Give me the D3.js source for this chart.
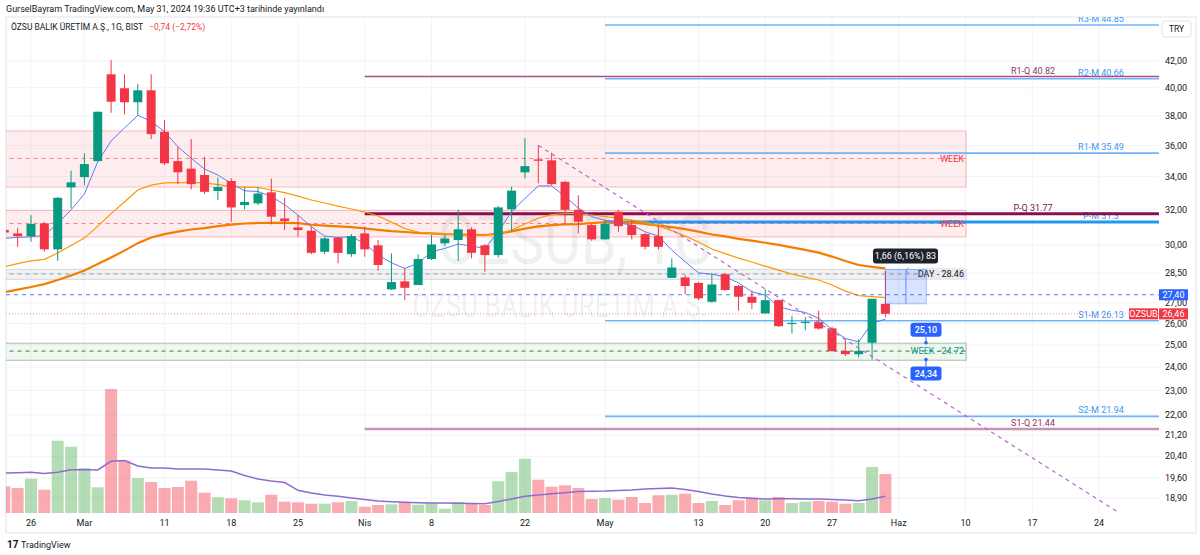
<!DOCTYPE html>
<html><head><meta charset="utf-8">
<script src="https://cdn.jsdelivr.net/npm/d3@7"></script>
<style>body{margin:0;background:#fff;}svg{display:block;font-family:Roboto,"Liberation Sans",sans-serif;}</style>
</head><body><svg id="c" width="1200" height="555"></svg>
<script>
// ---------- DATA ----------
const dates = ["2024-02-22","2024-02-23","2024-02-26","2024-02-27","2024-02-28","2024-02-29","2024-03-01",
"2024-03-04","2024-03-05","2024-03-06","2024-03-07","2024-03-08","2024-03-11","2024-03-12","2024-03-13","2024-03-14","2024-03-15",
"2024-03-18","2024-03-19","2024-03-20","2024-03-21","2024-03-22","2024-03-25","2024-03-26","2024-03-27","2024-03-28","2024-03-29",
"2024-04-01","2024-04-02","2024-04-03","2024-04-04","2024-04-05","2024-04-08","2024-04-09","2024-04-15","2024-04-16","2024-04-17","2024-04-18","2024-04-19",
"2024-04-22","2024-04-24","2024-04-25","2024-04-26","2024-04-29","2024-04-30","2024-05-02","2024-05-03",
"2024-05-06","2024-05-07","2024-05-08","2024-05-09","2024-05-10","2024-05-13","2024-05-14","2024-05-15","2024-05-16","2024-05-17",
"2024-05-20","2024-05-21","2024-05-22","2024-05-23","2024-05-24","2024-05-27","2024-05-28","2024-05-29","2024-05-30","2024-05-31"];
const open  = [30.85,30.65,30.5,31.22,29.77,33.34,33.97,34.98,40.99,39.96,38.95,39.81,36.9,34.98,34.5,34.1,33.12,33.73,32.28,32.38,33.04,31.5,30.99,30.8,29.64,30.41,29.51,30.65,29.99,27.67,28.08,27.89,29.25,30.1,30.28,30.88,29.99,29.46,32.03,34.27,35.09,35.03,33.68,32.0,31.12,30.32,31.89,31.12,30.61,30.5,28.26,28.28,28.0,27.05,28.45,27.84,27.3,26.48,27.13,25.97,26.03,26.06,25.77,24.73,24.58,25.10,26.95];
const high  = [31.0,30.95,31.69,31.3,32.75,34.37,35.48,38.3,42.08,40.99,40.27,40.99,37.7,35.91,36.42,35.26,33.95,33.9,33.34,33.34,33.88,32.71,31.69,31.03,30.46,30.46,30.61,31.03,30.28,29.55,28.75,29.5,30.56,30.56,32.0,30.99,30.06,32.22,33.38,36.47,36.0,35.52,33.73,32.87,31.18,31.4,32.0,31.4,30.68,31.12,29.28,28.4,28.05,28.49,28.5,27.9,27.6,27.67,27.16,26.35,26.3,26.61,25.83,25.25,25.25,27.2,28.61];
const low   = [30.55,29.9,30.19,29.64,29.15,32.08,33.48,34.95,38.21,38.1,38.05,36.42,34.73,33.54,33.22,32.94,32.58,31.31,32.03,32.28,31.16,30.84,30.46,29.51,29.51,29.02,29.37,29.37,28.63,27.64,27.13,27.89,29.2,29.95,29.15,29.28,28.57,29.33,30.8,33.9,33.59,33.48,31.18,30.65,30.24,30.3,30.74,30.32,29.77,29.77,28.26,27.43,27.13,27.0,27.6,26.61,26.7,26.48,25.83,25.53,25.68,25.7,24.7,24.5,24.43,24.34,26.3];
const close = [30.7,30.5,31.18,29.77,32.71,33.65,34.79,38.28,38.99,38.95,39.81,36.75,34.84,34.27,33.54,33.07,33.36,32.14,32.46,32.97,31.6,31.35,30.84,29.58,30.37,29.58,30.5,29.77,28.93,28.04,27.75,29.25,30.04,30.37,30.88,29.58,29.46,32.14,33.14,34.66,35.0,33.54,32.0,31.31,30.32,31.18,31.06,30.56,29.91,29.91,28.8,27.84,27.22,27.92,27.64,27.3,27.0,27.13,25.87,26.03,26.08,25.76,24.72,24.58,24.72,27.2,26.46];
const volume = [2.67,2.5,3.43,2.33,7.23,6.63,4.5,2.57,12.4,5.23,3.5,3.1,2.5,2.6,3.23,2.03,1.57,1.47,1.27,1.07,1.83,1.13,1.07,0.93,0.93,1.07,1.2,0.63,0.8,0.87,1.1,0.83,1.0,0.43,1.1,0.93,0.8,3.17,4.1,5.43,3.33,2.63,2.77,2.5,1.4,1.5,1.33,1.6,1.0,1.77,1.83,1.93,1.0,1.2,0.8,1.27,1.53,1.27,1.6,1.0,1.13,1.2,1.13,0.93,1.0,4.6,3.9];
const volumeMA = [4.0,4.03,4.07,3.95,4.07,4.33,4.32,4.3,5.17,5.25,4.7,4.5,4.5,4.4,4.4,4.4,4.3,4.2,3.75,3.4,3.2,3.05,2.27,2.0,1.8,1.67,1.5,1.35,1.2,1.13,1.07,1.03,1.0,1.0,0.97,0.95,0.93,1.15,1.4,1.67,1.8,1.93,2.03,2.15,2.18,2.2,2.25,2.3,2.4,2.45,2.5,2.35,2.15,1.9,1.7,1.55,1.47,1.4,1.43,1.42,1.4,1.4,1.35,1.3,1.23,1.4,1.67];
const maFast = [30.37,30.43,30.46,30.54,31.22,32.0,32.94,34.94,36.29,37.16,38.03,37.62,36.9,35.91,35.16,34.47,34.1,33.59,33.13,33.09,32.79,32.3,31.69,31.03,30.5,30.43,30.46,30.1,29.46,29.05,28.75,29.02,29.64,29.82,30.06,29.95,29.82,30.74,31.89,32.67,33.43,33.43,32.79,32.1,31.6,31.4,31.25,31.12,30.74,30.5,29.73,29.1,28.52,28.45,28.31,28.0,27.55,27.38,26.8,26.64,26.53,26.24,25.72,25.3,25.14,26.02,26.2];
const maMid = [28.84,29.0,29.15,29.23,29.57,29.98,30.39,31.06,31.78,32.46,33.18,33.48,33.61,33.63,33.65,33.61,33.51,33.39,33.36,33.34,33.18,33.02,32.81,32.58,32.4,32.22,32.05,31.87,31.64,31.29,30.92,30.73,30.64,30.61,30.59,30.56,30.56,30.61,30.84,31.18,31.52,31.72,31.78,31.78,31.7,31.61,31.52,31.4,31.29,31.06,30.81,30.5,30.17,29.79,29.54,29.3,29.09,28.87,28.66,28.45,28.3,28.15,27.89,27.58,27.36,27.31,27.26];
const maSlow = [27.53,27.66,27.79,27.94,28.15,28.38,28.64,28.98,29.33,29.7,30.11,30.42,30.61,30.75,30.87,30.95,31.06,31.15,31.21,31.24,31.25,31.25,31.23,31.14,31.09,31.05,31.0,30.93,30.85,30.78,30.73,30.68,30.65,30.61,30.59,30.57,30.56,30.64,30.76,30.92,31.05,31.12,31.16,31.18,31.24,31.29,31.31,31.26,31.18,31.09,31.0,30.89,30.75,30.59,30.48,30.35,30.25,30.13,30.01,29.88,29.74,29.59,29.38,29.14,28.93,28.83,28.75];

const timeTickIndex = [2,6,12,17,22,27,32,39,45,52,57,62,67,72,77,82];
const timeTickLabels = ["26","Mar","11","18","25","Nis","8","22","May","13","20","27","Haz","10","17","24"];
const priceTicks = [42,40,38,36,34,32,30,28.5,27,26,25,24,23,22,21.2,20.4,19.6,18.9];

const pivotLabels = ["R3-M 44.85","R2-M 40.66","R1-M 35.49","P-M 31.3","S1-M 26.13","S2-M 21.94","R1-Q 40.82","P-Q 31.77","S1-Q 21.44"];
const pivotValues = [44.85,40.66,35.49,31.3,26.13,21.94,40.82,31.77,21.44];
const pivotKind   = ["M","M","M","MP","M","M","QR","QP","QS"];

const zoneTop    = [36.96,31.96,28.7,25.08];
const zoneBottom = [33.36,30.45,28.18,24.31];
const zoneMid    = [35.15,31.21,28.46,24.72];
const zoneLabels = ["WEEK","WEEK","DAY - 28.46","WEEK - 24.72"];
const zoneKind   = ["res","res","day","sup"];

const trendStart = [40, 36.0];
const trendEnd   = [83.42, 18.42];
const lastPrice = 26.46, linePrice = 27.40;
const noteValues = [25.10, 24.34];
const measureFrom = 26.95, measureTo = 28.7;

// ---------- SCALES ----------
const svg = d3.select("#c");
const P = {l:6, r:1159, t:17, b:513};
const x = d3.scaleLinear().domain([2,82]).range([31,1099]);
const y = d3.scaleLog().domain([18.9,42]).range([498,61]);
const yv = d3.scaleLinear().domain([0,12.4]).range([513,389]);
const fmt = v => d3.format(".2f")(v).replace(".", ",");
const idx = d3.range(dates.length);

const defs = svg.append("defs");
defs.append("clipPath").attr("id","clip").append("rect")
  .attr("x",P.l).attr("y",P.t).attr("width",P.r-P.l).attr("height",P.b-P.t);
defs.append("marker").attr("id","arr").attr("viewBox","0 0 10 10").attr("refX",5).attr("refY",2)
  .attr("markerWidth",7).attr("markerHeight",7).attr("orient","auto-start-reverse")
  .append("path").attr("d","M1,6 L5,2 L9,6").attr("fill","none").attr("stroke","#5b8cff").attr("stroke-width",1.2);

// header
svg.append("text").attr("x",6).attr("y",12).attr("font-size",9).attr("fill","#131722")
  .text("GurselBayram TradingView.com, May 31, 2024 19:36 UTC+3 tarihinde yayınlandı");
// frame
svg.append("rect").attr("x",P.l).attr("y",P.t).attr("width",1196-P.l).attr("height",533-P.t)
  .attr("fill","none").attr("stroke","#e0e3eb");

const g = svg.append("g").attr("clip-path","url(#clip)");
// grid
g.selectAll(".vg").data(timeTickIndex).join("line").attr("x1",d=>x(d)).attr("x2",d=>x(d))
  .attr("y1",P.t).attr("y2",P.b).attr("stroke","#f2f3f7");
g.selectAll(".hg").data(priceTicks).join("line").attr("x1",P.l).attr("x2",P.r)
  .attr("y1",d=>y(d)).attr("y2",d=>y(d)).attr("stroke","#f2f3f7");

// watermark
g.append("text").attr("x",575).attr("y",264).attr("text-anchor","middle").attr("font-size",68)
  .attr("fill","rgba(19,23,34,0.065)").attr("textLength",275).attr("lengthAdjust","spacingAndGlyphs").text("OZSUB, 1G");
g.append("text").attr("x",560).attr("y",317).attr("text-anchor","middle").attr("font-size",33)
  .attr("fill","rgba(19,23,34,0.065)").attr("textLength",295).attr("lengthAdjust","spacingAndGlyphs").text("ÖZSU BALIK ÜRETİM A.Ş.");

// zones
const zStyle = {
  res:{fill:"rgba(242,54,69,0.09)",stroke:"rgba(242,54,69,0.3)",dash:"rgba(242,54,69,0.6)",text:"#f23645"},
  day:{fill:"rgba(120,123,134,0.1)",stroke:"rgba(120,123,134,0.25)",dash:"#9598a1",text:"#131722"},
  sup:{fill:"rgba(76,175,80,0.09)",stroke:"rgba(76,120,76,0.45)",dash:"#4b6b55",text:"#089981"}
};
zoneTop.forEach((t,i)=>{
  const s = zStyle[zoneKind[i]];
  const x0 = x(-5), x1 = x(72.05);
  g.append("rect").attr("x",x0).attr("y",y(t)).attr("width",x1-x0).attr("height",y(zoneBottom[i])-y(t))
    .attr("fill",s.fill).attr("stroke",s.stroke);
  g.append("line").attr("x1",x0).attr("x2",x1).attr("y1",y(zoneMid[i])).attr("y2",y(zoneMid[i]))
    .attr("stroke",s.dash).attr("stroke-dasharray","4,4");
});

// volume
g.selectAll(".vol").data(idx).join("rect")
  .attr("x",i=>x(i)-6).attr("width",12).attr("y",i=>yv(volume[i])).attr("height",i=>yv(0)-yv(volume[i]))
  .attr("fill",i=>close[i]>=open[i]?"rgba(76,175,80,0.42)":"rgba(242,54,69,0.42)");
g.append("path").datum(idx).attr("fill","none").attr("stroke","#8e6bd1").attr("stroke-width",1.5)
  .attr("d",d3.line().x(i=>x(i)).y(i=>yv(volumeMA[i])));

// pivots
const pvStyle = {
  M:{c:"#6fb4f5",w:1.6,lc:"#3d97f0",start:45,lx:1101},
  MP:{c:"#2196f3",w:3,lc:"#3d97f0",start:45,lx:1101},
  QR:{c:"#a94f82",w:1.5,lc:"#8e3566",start:27,lx:1033},
  QP:{c:"#880e4f",w:3,lc:"#7a1648",start:27,lx:1033},
  QS:{c:"#c994b3",w:2.5,lc:"#8e3566",start:27,lx:1033}
};
pivotValues.forEach((v,i)=>{
  const s = pvStyle[pivotKind[i]];
  g.append("line").attr("x1",x(s.start)).attr("x2",P.r).attr("y1",y(v)).attr("y2",y(v))
    .attr("stroke",s.c).attr("stroke-width",s.w);
  g.append("text").attr("x",s.lx).attr("y",y(v)-3).attr("text-anchor","middle").attr("font-size",9)
    .attr("fill",s.lc).text(pivotLabels[i]);
});

// MAs
const ln = arr => d3.line().x(i=>x(i)).y(i=>y(arr[i]));
g.append("path").datum(idx).attr("fill","none").attr("stroke","#f57c00").attr("stroke-width",2.2).attr("d",ln(maSlow));
g.append("path").datum(idx).attr("fill","none").attr("stroke","#ff9800").attr("stroke-width",1.2).attr("d",ln(maMid));
g.append("path").datum(idx).attr("fill","none").attr("stroke","#5b7cf5").attr("stroke-width",1).attr("d",ln(maFast));

// dashed price lines
g.append("line").attr("x1",P.l).attr("x2",P.r).attr("y1",y(linePrice)).attr("y2",y(linePrice))
  .attr("stroke","#5b7cf5").attr("stroke-dasharray","4,4").attr("stroke-width",1);
g.append("line").attr("x1",P.l).attr("x2",P.r).attr("y1",y(lastPrice)).attr("y2",y(lastPrice))
  .attr("stroke","rgba(242,54,69,0.55)").attr("stroke-dasharray","1,2").attr("stroke-width",1);

// candles
idx.forEach(i=>{
  const col = close[i]>=open[i]?"#089981":"#f23645";
  g.append("line").attr("x1",x(i)).attr("x2",x(i)).attr("y1",y(high[i])).attr("y2",y(low[i])).attr("stroke",col);
  const yt = y(Math.max(open[i],close[i])), yb = y(Math.min(open[i],close[i]));
  g.append("rect").attr("x",x(i)-4.5).attr("y",yt).attr("width",9).attr("height",Math.max(1.2,yb-yt)).attr("fill",col);
});

// trend line
g.append("line").attr("x1",x(trendStart[0])).attr("y1",y(trendStart[1])).attr("x2",x(trendEnd[0])).attr("y2",y(trendEnd[1]))
  .attr("stroke","#ba68c8").attr("stroke-width",1.2).attr("stroke-dasharray","4,4");

// zone labels
zoneMid.forEach((m,i)=>{
  const s = zStyle[zoneKind[i]];
  if (zoneKind[i]==="day") {
    g.append("rect").attr("x",919).attr("y",y(m)-6).attr("width",47).attr("height",12).attr("fill","#e9eaee");
  }
  g.append("text").attr("x",964).attr("y",y(m)+3.2).attr("text-anchor","end").attr("font-size",9)
    .attr("fill",s.text).text(zoneLabels[i]);
});

// measure tool
const mx0 = x(66), mx1 = x(69.07);
g.append("rect").attr("x",mx0).attr("y",y(measureTo)).attr("width",mx1-mx0).attr("height",y(measureFrom)-y(measureTo))
  .attr("fill","rgba(41,98,255,0.18)").attr("stroke","rgba(41,98,255,0.35)");
g.append("line").attr("x1",(mx0+mx1)/2).attr("x2",(mx0+mx1)/2).attr("y1",y(measureFrom)).attr("y2",y(measureTo)+1)
  .attr("stroke","#5b8cff").attr("marker-end","url(#arr)");
g.append("rect").attr("x",873).attr("y",y(measureTo)-21).attr("width",65).attr("height",15).attr("rx",3).attr("fill","#1e222d");
g.append("text").attr("x",905.5).attr("y",y(measureTo)-10.5).attr("text-anchor","middle").attr("font-size",9).attr("fill","#fff")
  .text("1,66 (6,16%) 83");

// price notes
const nx = x(69.04);
g.append("line").attr("x1",nx).attr("x2",nx).attr("y1",y(noteValues[0])-6).attr("y2",y(noteValues[0])).attr("stroke","#2962ff");
g.append("line").attr("x1",nx).attr("x2",nx).attr("y1",y(noteValues[1])).attr("y2",y(noteValues[1])+7).attr("stroke","#2962ff");
noteValues.forEach((v,i)=>{
  g.append("circle").attr("cx",nx).attr("cy",y(v)).attr("r",1.8).attr("fill","#2962ff");
  const by = i===0 ? y(v)-20 : y(v)+7;
  g.append("rect").attr("x",nx-15.5).attr("y",by).attr("width",31).attr("height",14).attr("rx",3).attr("fill","#2962ff");
  g.append("text").attr("x",nx).attr("y",by+10).attr("text-anchor","middle").attr("font-size",9).attr("fill","#fff").attr("font-weight",500).text(fmt(v));
});

// legend
const lg = svg.append("text").attr("x",11).attr("y",30).attr("font-size",8.5).attr("fill","#131722").text("ÖZSU BALIK ÜRETİM A.Ş., 1G, BIST");
const lw = lg.node().getComputedTextLength();
svg.append("text").attr("x",11+lw+6).attr("y",30).attr("font-size",8.5).attr("fill","#f23645").text("−0,74 (−2,72%)");

// price axis
svg.selectAll(".pt").data(priceTicks).join("text").attr("x",1165).attr("y",d=>y(d)+3.2)
  .attr("font-size",9).attr("fill","#131722").text(d=>fmt(d));
svg.append("rect").attr("x",1162).attr("y",21).attr("width",29).attr("height",16).attr("rx",3).attr("fill","#fff").attr("stroke","#e0e3eb");
svg.append("text").attr("x",1176.5).attr("y",32).attr("text-anchor","middle").attr("font-size",8.5).attr("fill","#131722").text("TRY");
const tag = (x0,w,v,fill,txt)=>{
  svg.append("rect").attr("x",x0).attr("y",y(v)-5.5).attr("width",w).attr("height",11).attr("fill",fill);
  svg.append("text").attr("x",x0+w/2).attr("y",y(v)+3.2).attr("text-anchor","middle").attr("font-size",9).attr("fill","#fff").text(txt);
};
tag(1159,29,linePrice,"#2962ff",fmt(linePrice));
tag(1129,29,lastPrice,"#f23645","OZSUB");
tag(1159,29,lastPrice,"#f23645",fmt(lastPrice));

// time axis
svg.selectAll(".tt").data(timeTickIndex).join("text").attr("x",d=>x(d)).attr("y",526).attr("text-anchor","middle")
  .attr("font-size",9).attr("fill","#131722").text((d,i)=>timeTickLabels[i]);

// footer logo
svg.append("text").attr("x",7).attr("y",548).attr("font-size",10).attr("font-weight",700).attr("fill","#131722").text("17");
svg.append("text").attr("x",21).attr("y",548).attr("font-size",9).attr("fill","#131722").text("TradingView");
</script></body></html>
